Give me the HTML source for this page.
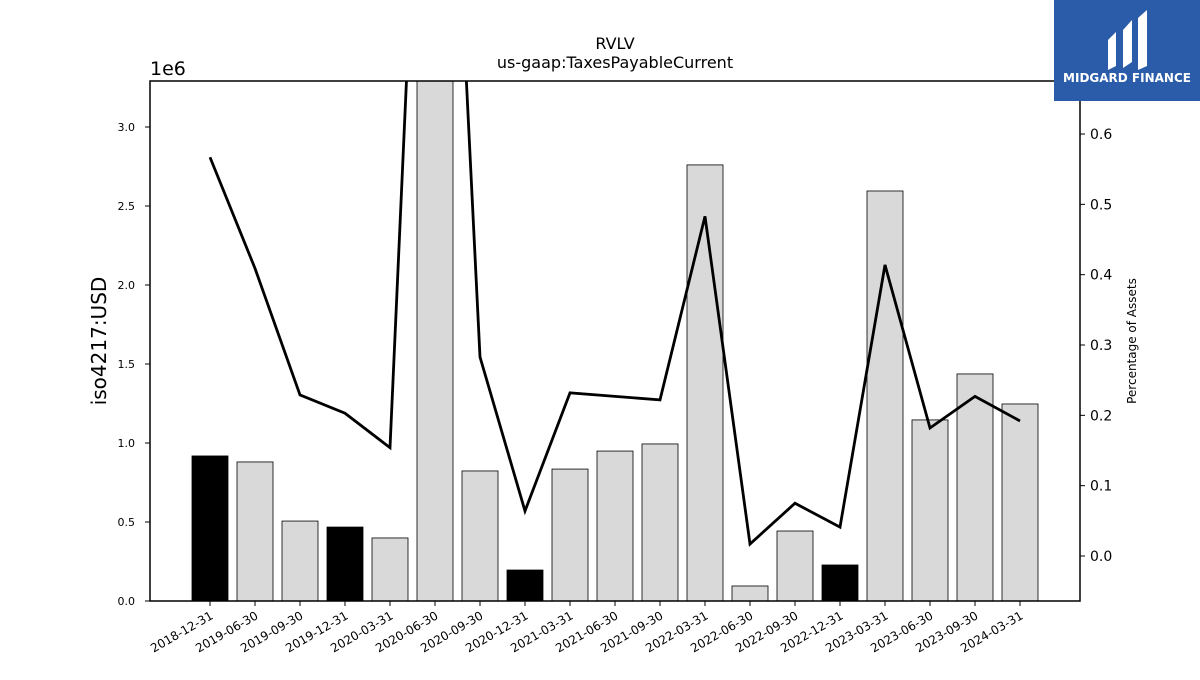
<!DOCTYPE html>
<html><head><meta charset="utf-8"><style>
body{margin:0;background:#fff;font-family:"Liberation Sans","DejaVu Sans",sans-serif}
svg text{font-family:"DejaVu Sans","Liberation Sans",sans-serif}
</style></head><body>
<svg id="chart" width="1200" height="675" xmlns="http://www.w3.org/2000/svg">
<defs><clipPath id="plotclip"><rect x="150" y="81" width="930" height="520"/></clipPath></defs>
<rect width="1200" height="675" fill="#fff"/>
<text x="615" y="49" text-anchor="middle" font-size="16">RVLV</text>
<text x="615" y="68" text-anchor="middle" font-size="16">us-gaap:TaxesPayableCurrent</text>
<text x="150" y="75" font-size="19">1e6</text>
<text x="106" y="341" text-anchor="middle" font-size="20" transform="rotate(-90 106 341)">iso4217:USD</text>
<text x="1136" y="341" text-anchor="middle" font-size="12" transform="rotate(-90 1136 341)">Percentage of Assets</text>
<g id="bars" clip-path="url(#plotclip)"></g>
<g id="line" clip-path="url(#plotclip)"></g>
<g id="axes"></g>
<rect x="150" y="81" width="930" height="520" fill="none" stroke="#000" stroke-width="1.5"/>
<g>
<rect x="1054" y="0" width="146" height="101" fill="#2a5caa"/>
<path d="M1108 40 L1116 32 L1116 66 L1108 70 Z M1123 30 L1132 20 L1132 62 L1123 68 Z M1138 18 L1147 10 L1147 66 L1138 70 Z" fill="#fff"/>
<text x="1127" y="82" text-anchor="middle" font-size="12" font-weight="bold" fill="#fff">MIDGARD FINANCE</text>
</g>
</svg>
<script>
const categories=["2018-12-31","2019-06-30","2019-09-30","2019-12-31","2020-03-31","2020-06-30","2020-09-30","2020-12-31","2021-03-31","2021-06-30","2021-09-30","2022-03-31","2022-06-30","2022-09-30","2022-12-31","2023-03-31","2023-06-30","2023-09-30","2024-03-31"];
const barValues=[0.918,0.88,0.506,0.468,0.399,3.4,0.823,0.196,0.835,0.949,0.994,2.76,0.095,0.443,0.228,2.595,1.146,1.437,1.247];
const annualFlags=[1,0,0,1,0,0,0,1,0,0,0,0,0,0,1,0,0,0,0];
const pctValues=[0.567,0.409,0.229,0.203,0.154,1.58,0.283,0.064,0.232,0.227,0.222,0.483,0.017,0.075,0.041,0.414,0.182,0.227,0.192];
const yTicks=[0,0.5,1.0,1.5,2.0,2.5,3.0];
const y2Ticks=[0.0,0.1,0.2,0.3,0.4,0.5,0.6];
const NS="http://www.w3.org/2000/svg";
const x=i=>210+i*45;
const y=v=>601-v*158;
const y2=v=>556-v*703.3;
function mk(t,a,p){const e=document.createElementNS(NS,t);for(const k in a)e.setAttribute(k,a[k]);p.appendChild(e);return e;}
const bars=document.getElementById('bars'),line=document.getElementById('line'),axes=document.getElementById('axes');
barValues.forEach((v,i)=>{
 const r=mk('rect',{x:x(i)-18,y:y(v),width:36,height:601-y(v),fill:annualFlags[i]?'#000':'#d9d9d9',stroke:'#000','stroke-width':0.8},bars);
 
 
});
const pl=mk('polyline',{points:pctValues.map((v,i)=>x(i)+','+y2(v)).join(' '),fill:'none',stroke:'#000','stroke-width':2.8},line);


yTicks.forEach(t=>{
 mk('line',{x1:145,x2:150,y1:y(t),y2:y(t),stroke:'#000'},axes);
 const tx=mk('text',{x:135,y:y(t)+4,'text-anchor':'end','font-size':11},axes);tx.textContent=t.toFixed(1);
 
 
});
y2Ticks.forEach(t=>{
 mk('line',{x1:1080,x2:1085,y1:y2(t),y2:y2(t),stroke:'#000'},axes);
 const tx=mk('text',{x:1090,y:y2(t)+5,'font-size':14},axes);tx.textContent=t.toFixed(1);
 
 
});
categories.forEach((c,i)=>{
 mk('line',{x1:x(i),x2:x(i),y1:601,y2:606,stroke:'#000'},axes);
 const tx=mk('text',{x:x(i)+4,y:618,'text-anchor':'end','font-size':12,transform:`rotate(-30 ${x(i)+4} 618)`},axes);tx.textContent=c;
 
 
});
</script>
</body></html>
